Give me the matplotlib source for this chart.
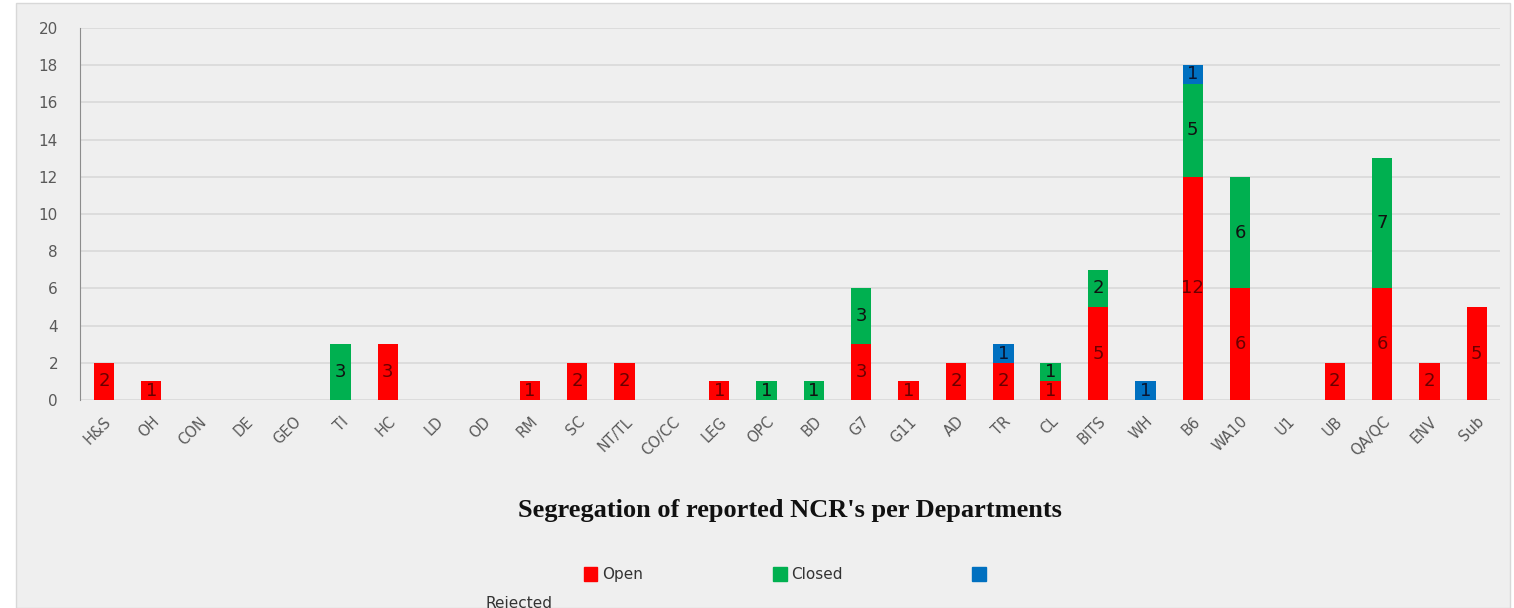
import matplotlib.pyplot as plt
from matplotlib.patches import Rectangle, Patch
import numpy as np

departments = ["H&S", "OH", "CON", "DE", "GEO", "TI", "HC", "LD", "OD", "RM", "SC",
               "NT/TL", "CO/CC", "LEG", "OPC", "BD", "G7", "G11", "AD", "TR", "CL",
               "BITS", "WH", "B6", "WA10", "U1", "UB", "QA/QC", "ENV", "Sub"]
open_ncr = [2, 1, 0, 0, 0, 0, 3, 0, 0, 1, 2, 2, 0, 1, 0, 0, 3, 1, 2, 2, 1,
            5, 0, 12, 6, 0, 2, 6, 2, 5]
closed_ncr = [0, 0, 0, 0, 0, 3, 0, 0, 0, 0, 0, 0, 0, 0, 1, 1, 3, 0, 0, 0, 1,
              2, 0, 5, 6, 0, 0, 7, 0, 0]
rejected_ncr = [0, 0, 0, 0, 0, 0, 0, 0, 0, 0, 0, 0, 0, 0, 0, 0, 0, 0, 0, 1, 0,
                0, 1, 1, 0, 0, 0, 0, 0, 0]

RED, GREEN, BLUE = "#ff0000", "#00b050", "#0070c0"
BG = "#efefef"

fig = plt.figure(figsize=(15.14, 6.08), dpi=100, facecolor="white")
fig.patches.append(Rectangle((16 / 1514, 0), 1494 / 1514, 605 / 608, transform=fig.transFigure,
                             facecolor=BG, edgecolor="#d8d8d8", lw=1, zorder=-10))

ax = fig.add_axes([0.053, 0.342, 0.938, 0.612])
ax.set_facecolor(BG)

x = np.arange(len(departments))
o = np.array(open_ncr)
c = np.array(closed_ncr)
r = np.array(rejected_ncr)
w = 0.43
segs = [(o, 0, RED, "#6a0000"), (c, o, GREEN, "#111111"), (r, o + c, BLUE, "#0a1530")]
for vals, base, col, tcol in segs:
    ax.bar(x, vals, w, bottom=base, color=col, zorder=3)
    for xi, v, b in zip(x, vals, np.broadcast_to(base, vals.shape)):
        if v > 0:
            ax.text(xi, b + v / 2, str(v), ha="center", va="center", fontsize=13,
                    color=tcol, zorder=4)

ax.set_xlim(-0.5, len(departments) - 0.5)
ax.set_ylim(0, 20)
ax.set_yticks(range(0, 21, 2))
ax.grid(axis="y", color="#d9d9d9", lw=1.2, zorder=0)
for s in ["top", "right", "bottom"]:
    ax.spines[s].set_visible(False)
ax.spines["left"].set_color("#8c8c8c")
ax.tick_params(axis="both", length=0, colors="#595959", labelsize=11)
ax.tick_params(axis="y", pad=16)
ax.set_xticks(x)
ax.set_xticklabels(departments, rotation=45, ha="right", rotation_mode="anchor", fontsize=10.5)
ax.tick_params(axis="x", pad=10)

fig.text(0.522, 0.16, "Segregation of reported NCR's per Departments", ha="center", va="center",
         fontsize=19, fontweight="bold", family="Liberation Serif", color="#111111")

handles = [Patch(color=RED), Patch(color=GREEN), Patch(color=BLUE)]
fig.legend(handles, ["Open", "Closed", ""], loc="center", bbox_to_anchor=(0.52, 0.055), ncol=3,
           frameon=False, fontsize=11, handlelength=0.9, handleheight=1.1, handletextpad=0.3,
           columnspacing=8.5, labelcolor="#333333")
fig.text(0.321, -0.005, "Rejected", fontsize=11, color="#333333", va="bottom")

fig.savefig("out.png", dpi=100)
